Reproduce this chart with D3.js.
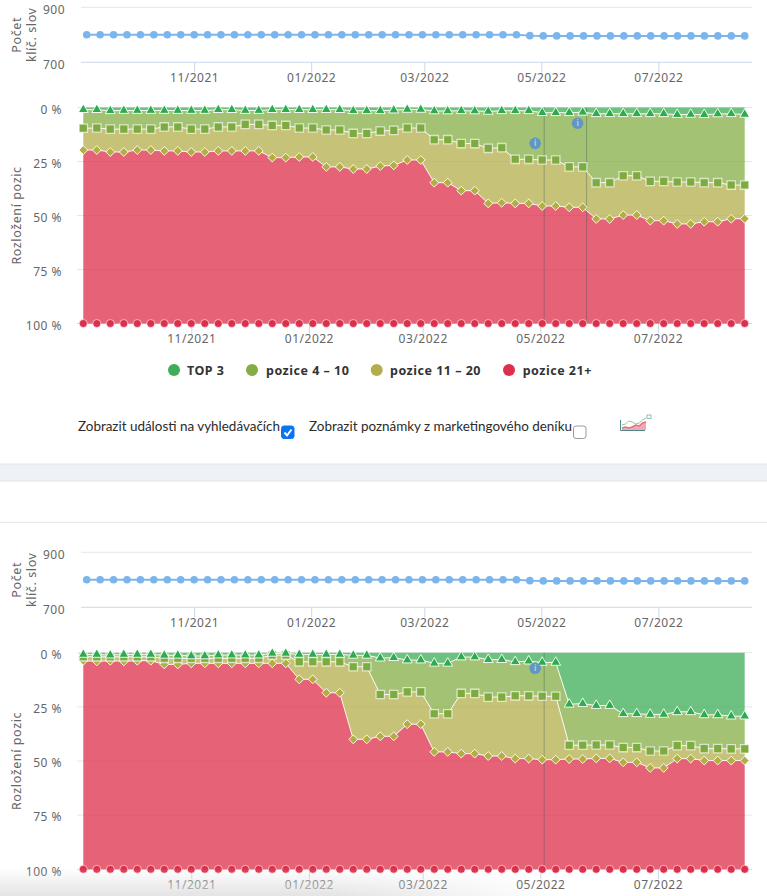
<!DOCTYPE html>
<meta charset="utf-8">
<body>
<script src="https://cdn.jsdelivr.net/npm/d3@7"></script>
<style>
    html, body { margin: 0; background: #fff; }
    svg { display: block; }
    text { font-family: "Noto Sans", sans-serif; }
    .axis text { font-size: 12px; fill: #666; letter-spacing: .5px; }
    .title { font-size: 12.5px; fill: #666; letter-spacing: .6px; }
    .legend { font-size: 12.5px; font-weight: 700; fill: #333; letter-spacing: .5px; }
    .check { font-family: Lato, sans-serif; font-size: 13.45px; fill: #2b2b2b; }
</style>
<script>
var width = 767, height = 896;

// weekly measurements, every Monday
var weeks = d3.timeMonday.range(new Date(2021, 8, 6), new Date(2022, 7, 16));
var monthTicks = [new Date(2021, 10, 1), new Date(2022, 0, 1), new Date(2022, 2, 1), new Date(2022, 4, 1), new Date(2022, 6, 1)];
var keywordTicks = [700, 900];
var shareTicks = [0, 25, 50, 75, 100];

var keywords = [800,800,800,800,800,800,800,800,800,800,800,800,800,800,800,800,800,800,800,800,800,800,800,800,800,800,800,800,800,800,800,800,800,797,796,796,796,796,796,796,796,796,796,796,796,796,796,796,796,796];

// upper edge of each stacked band, in %
var top3A = [1,1,1.5,1.4,1.4,1.4,1.4,1.4,1.4,1.4,1,1,1.4,1.4,1,1,1,1,1,1,1.5,1.5,1.5,1.2,.9,.9,1.6,1.6,1.5,1.6,1.8,1.5,1.5,1.5,2.4,2.4,2.4,2.2,2.9,2.9,2.9,2.9,2.9,2.9,3.3,3.2,3.3,3,2.9,3.2];
var pos10A = [9.6,9.5,10,10,10,10,9,9,10,10,9,9,7.8,7.8,8.3,8.3,9.5,9.5,10.4,10.4,12,12,10.9,10.6,9.5,9.5,14.9,14.9,16.7,16.7,18.9,18.6,24,24,24.3,24.3,27.5,27.5,34.8,34.8,31.6,31.6,34.2,34.2,34.5,34.5,34.8,34.8,35.9,35.9];
var pos20A = [19.7,19.7,20.6,20.6,19.7,19.7,20.1,20.1,20.6,20.6,20.1,20.1,20.1,20.1,23.2,23.2,22.9,22.9,27.5,27.5,28.5,28.5,27.1,26.8,24.3,24.3,34.8,34.8,38.5,38.5,44.4,44.1,44.4,44.4,45.6,45.6,46.2,46.2,51.6,51.6,49.8,49.8,52.4,52.4,53.9,53.9,52.9,52.9,51.5,51.5];

var top3B = [.8,.8,1.1,.8,.8,.8,1.2,1.2,1.5,1.5,1.1,1.1,1.1,1.1,.3,.3,.8,.8,.8,.8,1.2,1.2,2.5,2.3,3.4,3.4,4.9,4.9,2,2,3.2,3.2,4.2,3.9,4.5,4.5,23.8,23.5,24.4,24.4,28.2,28.2,28.5,28.5,27.3,27.3,28.7,28.7,29.3,29.3];
var pos10B = [1.9,1.9,1.9,1.9,1.9,1.9,2.6,2.6,2.6,2.6,2.6,2.6,2.6,2.6,1.1,1.1,4.2,4.2,4.2,4.2,6.5,6.5,19.3,19.3,18.1,18.1,28.2,28.2,18.8,18.8,20.5,20.5,19.9,19.9,20.1,20.1,42.7,42.7,42.6,42.6,43.8,43.8,45.4,45.4,42.9,42.9,44.3,44.3,44.4,44.4];
var pos20B = [3.7,4,3.7,4,3.7,3.7,5.4,5.4,4.9,4.9,4.9,4.9,4.9,4.9,4.9,4.9,12.3,12.3,18.5,18.5,40,40,38.6,38.6,33,33,45.8,45.8,46.6,46.6,47.7,47.7,48.9,48.9,49.4,49.4,49.1,49.1,48.8,48.8,50.6,50.6,53.2,53.2,48.9,48.9,49.8,49.8,49.8,49.8];

var seriesNames = ["TOP 3", "pozice 4 – 10", "pozice 11 – 20", "pozice 21+"];
var seriesColors = ["#3dae57", "#84ad45", "#b3ae4b", "#de2f4a"];

// search engine events: day and height of the flag
var eventsA = [{date: new Date(2022, 4, 3), flag: 16.6}, {date: new Date(2022, 4, 25), flag: 7.3}];
var eventsB = [{date: new Date(2022, 4, 3), flag: 7.2}];

var svg = d3.select("body").append("svg")
    .attr("width", width)
    .attr("height", height);

var defs = svg.append("defs");
var fade = defs.append("linearGradient").attr("id", "shade").attr("x1", 0).attr("x2", 0).attr("y1", 0).attr("y2", 1);
fade.append("stop").attr("offset", 0).attr("stop-color", "#ddd").attr("stop-opacity", 0);
fade.append("stop").attr("offset", 1).attr("stop-color", "#ddd").attr("stop-opacity", .8);
var fadeX = defs.append("linearGradient").attr("id", "fadeX");
fadeX.append("stop").attr("offset", .6).attr("stop-color", "#fff");
fadeX.append("stop").attr("offset", 1).attr("stop-color", "#000");
defs.append("mask").attr("id", "shadeMask").attr("maskUnits", "userSpaceOnUse")
    .attr("x", 0).attr("y", 860).attr("width", 560).attr("height", 36)
    .append("rect").attr("x", 0).attr("y", 860).attr("width", 560).attr("height", 36).attr("fill", "url(#fadeX)");

function yTitle(lines, x, y) {
    var t = svg.append("text").attr("class", "title")
        .attr("text-anchor", "middle")
        .attr("transform", "translate(" + x + "," + y + ") rotate(-90)");
    lines.forEach(function(l, i) {
        t.append("tspan").attr("x", 0).attr("dy", i ? 15 : 0).text(l);
    });
}

function panel(o) {
    // keyword count strip
    var xk = d3.scaleTime().domain([weeks[0], weeks[49]]).range([86.7, 744.7]);
    var yk = d3.scaleLinear().domain([700, 900]).range([o.kBottom, o.kTop]);

    var gk = svg.append("g").attr("class", "axis")
        .attr("transform", "translate(65,0)")
        .call(d3.axisLeft(yk).tickValues(keywordTicks).tickSize(0).tickPadding(0));
    gk.select(".domain").remove();
    gk.selectAll("text").attr("dy", ".36em").attr("y", 1.5);

    svg.append("line").attr("x1", 81).attr("x2", 752).attr("y1", yk(900)).attr("y2", yk(900)).attr("stroke", "#e6e6e6");
    svg.append("line").attr("x1", 81).attr("x2", 752).attr("y1", yk(700)).attr("y2", yk(700)).attr("stroke", "#ccd6eb");

    var xa = svg.append("g").attr("class", "axis")
        .attr("transform", "translate(0," + o.kBottom + ")")
        .call(d3.axisBottom(xk).tickValues(monthTicks).tickFormat(d3.timeFormat("%m/%Y")).tickSize(10));
    xa.select(".domain").remove();
    xa.selectAll("line").attr("stroke", "#ccd6eb");
    xa.selectAll("text").attr("y", 11).attr("dy", ".71em");

    svg.append("path").datum(keywords)
        .attr("fill", "none").attr("stroke", "#7cb5ec").attr("stroke-width", 2)
        .attr("d", d3.line().x(function(d, i) { return xk(weeks[i]); }).y(function(d) { return yk(d); }));
    svg.append("g").selectAll("circle").data(keywords).enter().append("circle")
        .attr("cx", function(d, i) { return xk(weeks[i]); })
        .attr("cy", function(d) { return yk(d); })
        .attr("r", 3.8).attr("fill", "#7cb5ec");

    yTitle(["Počet", "klíč. slov"], 21, (o.kTop + o.kBottom) / 2);

    // stacked shares
    var x = d3.scaleTime().domain([weeks[0], weeks[49]]).range([83.3, 744.7]);
    var y = d3.scaleLinear().domain([0, 100]).range([o.top, o.bottom]);

    var gy = svg.append("g").attr("class", "axis")
        .attr("transform", "translate(62,0)")
        .call(d3.axisLeft(y).tickValues(shareTicks).tickFormat(function(d) { return d + " %"; }).tickSize(0).tickPadding(0));
    gy.select(".domain").remove();
    gy.selectAll("text").attr("dy", ".36em").attr("y", 1.5);

    svg.append("g").selectAll("line").data(shareTicks).enter().append("line")
        .attr("x1", 77).attr("x2", 752)
        .attr("y1", function(d) { return y(d); }).attr("y2", function(d) { return y(d); })
        .attr("stroke", function(d) { return d == 100 ? "#ccd6eb" : "#e6e6e6"; });

    var xb = svg.append("g").attr("class", "axis")
        .attr("transform", "translate(0," + o.bottom + ")")
        .call(d3.axisBottom(x).tickValues(monthTicks).tickFormat(d3.timeFormat("%m/%Y")).tickSize(10));
    xb.select(".domain").remove();
    xb.selectAll("line").attr("stroke", "#ccd6eb");
    xb.selectAll("text").attr("y", 11).attr("dy", ".71em");

    yTitle(["Rozložení pozic"], 21, y(50));

    var zero = weeks.map(function() { return 0; });
    var full = weeks.map(function() { return 100; });
    var edges = [zero, o.top3, o.pos10, o.pos20, full];

    seriesColors.forEach(function(c, s) {
        var area = d3.area()
            .x(function(d, i) { return x(weeks[i]); })
            .y0(function(d, i) { return y(edges[s][i]); })
            .y1(function(d, i) { return y(edges[s + 1][i]); });
        svg.append("path").datum(weeks).attr("fill", c).attr("fill-opacity", .75).attr("d", area);
    });

    // vertical event lines sit over the areas
    o.events.forEach(function(e) {
        svg.append("line").attr("x1", x(e.date)).attr("x2", x(e.date))
            .attr("y1", y(0)).attr("y2", y(100))
            .attr("stroke", "#204a50").attr("stroke-opacity", .32);
    });

    var line = d3.line().x(function(d, i) { return x(weeks[i]); }).y(function(d) { return y(d); });
    [o.pos20, o.pos10, o.top3].forEach(function(e) {
        svg.append("path").datum(e).attr("fill", "none").attr("stroke", "#fff").attr("stroke-opacity", .9).attr("d", line);
    });

    var markers = [
        {edge: full, type: d3.symbolCircle, size: 50, color: seriesColors[3], sw: 1, so: .6},
        {edge: o.pos20, type: d3.symbolDiamond2, size: 50, color: "#b3ae42", sw: 1, so: .9},
        {edge: o.pos10, type: d3.symbolSquare, size: 70, color: "#7dab3f", sw: 1.3, so: .65},
        {edge: o.top3, type: d3.symbolTriangle, size: 42, color: "#2eaa4f", sw: 1, so: .9}
    ];
    markers.forEach(function(m) {
        var sym = d3.symbol().type(m.type).size(m.size)();
        svg.append("g").selectAll("path").data(m.edge).enter().append("path")
            .attr("d", sym)
            .attr("transform", function(d, i) { return "translate(" + x(weeks[i]) + "," + y(d) + ")"; })
            .attr("fill", m.color).attr("stroke", "#fff").attr("stroke-opacity", m.so).attr("stroke-width", m.sw);
    });

    o.events.forEach(function(e) {
        var f = svg.append("g").attr("transform", "translate(" + (x(e.date) - 9) + "," + y(e.flag) + ")");
        f.append("circle").attr("r", 5.8).attr("fill", "#5f93c9").attr("fill-opacity", .95);
        f.append("text").attr("text-anchor", "middle").attr("y", 3).attr("font-size", 8).attr("font-weight", 700).attr("fill", "#b6d3c8").text("i");
    });
}

panel({kTop: 7.3, kBottom: 62.3, top: 107.5, bottom: 323.5, top3: top3A, pos10: pos10A, pos20: pos20A, events: eventsA});

// legend
var legendX = [174, 252, 376.7, 509];
var legendTextX = [187, 266, 390, 522.7];
seriesNames.forEach(function(n, i) {
    svg.append("circle").attr("cx", legendX[i]).attr("cy", 370).attr("r", 6).attr("fill", seriesColors[i]);
    svg.append("text").attr("class", "legend").attr("x", legendTextX[i]).attr("y", 375).text(n);
});

// checkboxes
function checkbox(x, label, labelX, checked) {
    svg.append("text").attr("class", "check").attr("x", labelX).attr("y", 431).text(label);
    svg.append("rect").attr("x", x + .5).attr("y", 426).attr("width", 12.5).attr("height", 12.5).attr("rx", 2.5)
        .attr("fill", checked ? "#0a75f0" : "#fff").attr("stroke", checked ? "#0a75f0" : "#9a9a9a");
    if (checked) {
        svg.append("path").attr("d", "M" + (x + 3.5) + ",432.5l2.5,3l4.5,-6")
            .attr("fill", "none").attr("stroke", "#fff").attr("stroke-width", 2);
    }
}
checkbox(281, "Zobrazit události na vyhledávačích", 78, true);
checkbox(573, "Zobrazit poznámky z marketingového deníku", 309, false);

// small chart thumbnail next to the checkboxes
var thumbGreen = [5, 6, 9, 8, 6, 7, 10, 12];
var thumbRed = [2, 3, 2, 3, 5, 4, 7, 8];
var tx = d3.scaleLinear().domain([0, 7]).range([622, 646]);
var ty = d3.scaleLinear().domain([0, 14]).range([430, 416]);
var thumbLine = d3.line().x(function(d, i) { return tx(i); }).y(function(d) { return ty(d); });
var thumbArea = d3.area().x(function(d, i) { return tx(i); }).y0(ty(0)).y1(function(d) { return ty(d); });
svg.append("path").datum(thumbRed).attr("d", thumbArea).attr("fill", "#f3a9b2");
svg.append("path").attr("d", "M620.5,420V430.5H645").attr("fill", "none").attr("stroke", "#4f8a8b");
svg.append("path").datum(thumbGreen).attr("d", thumbLine).attr("fill", "none").attr("stroke", "#8cc79a");
svg.append("path").datum(thumbRed).attr("d", thumbLine).attr("fill", "none").attr("stroke", "#e8707f").attr("stroke-width", 1.5);
svg.append("rect").attr("x", 647).attr("y", 415).attr("width", 4).attr("height", 3.5).attr("fill", "#fff").attr("stroke", "#4f8a8b").attr("stroke-width", .6);

// divider between the two blocks
svg.append("rect").attr("x", 0).attr("y", 464).attr("width", width).attr("height", 17).attr("fill", "#eef2f6");
svg.append("line").attr("x1", 0).attr("x2", width).attr("y1", 464).attr("y2", 464).attr("stroke", "#e2e4e6");
svg.append("line").attr("x1", 0).attr("x2", width).attr("y1", 481).attr("y2", 481).attr("stroke", "#e2e4e6");
svg.append("line").attr("x1", 0).attr("x2", width).attr("y1", 522.3).attr("y2", 522.3).attr("stroke", "#e6e6e6");

panel({kTop: 552.3, kBottom: 607.3, top: 652.7, bottom: 869.3, top3: top3B, pos10: pos10B, pos20: pos20B, events: eventsB});

// soft shadow along the bottom edge of the capture
svg.append("rect").attr("x", 0).attr("y", 868).attr("width", 560).attr("height", 28)
    .attr("fill", "url(#shade)").attr("mask", "url(#shadeMask)");
</script>
